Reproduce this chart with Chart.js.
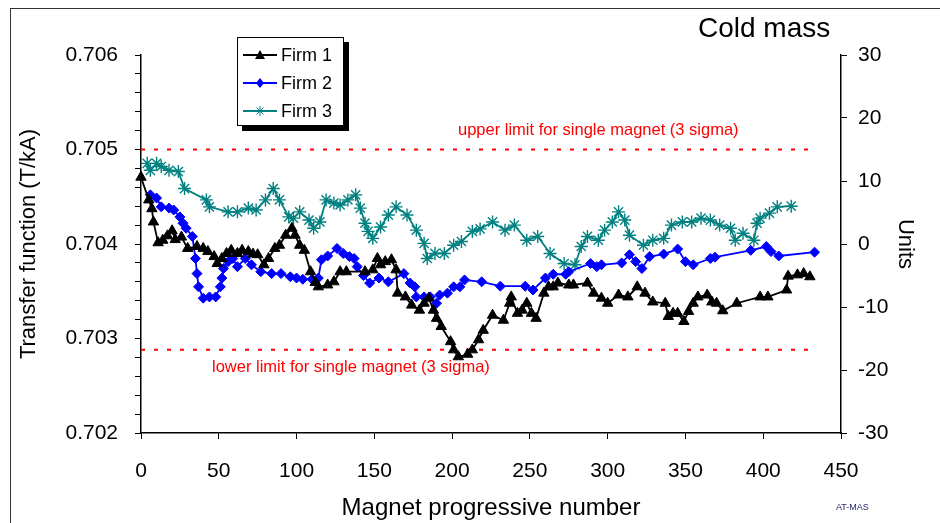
<!DOCTYPE html>
<html>
<head>
<meta charset="utf-8">
<script src="https://cdn.jsdelivr.net/npm/chart.js@4.4.1/dist/chart.umd.min.js"></script>
<style>
  html, body { margin: 0; padding: 0; background: #fff; }
  body { width: 940px; height: 523px; position: relative; overflow: hidden; font-family: "Liberation Sans", Arial, sans-serif; }
  #frame { position: absolute; left: 10px; top: 8px; width: 960px; height: 560px; border: 1px solid #333; }
  #wrap { position: absolute; left: 0; top: 0; width: 940px; height: 523px; }
  .note { position: absolute; white-space: nowrap; line-height: 1; }
  #title { left: 698px; top: 14px; font-size: 28px; color: #000; }
  #upper { left: 458px; top: 121px; font-size: 16.5px; color: #ff0000; }
  #lower { left: 212px; top: 358px; font-size: 16.5px; color: #ff0000; }
  #tag { left: 836px; top: 503px; font-size: 9px; color: #2b2b6b; }
  #legend { position: absolute; left: 237px; top: 37px; width: 105px; height: 87px; border: 1px solid #000; background: #fff; box-shadow: 5px 5px 0 #000; }
  .item { position: absolute; left: 5px; height: 20px; display: flex; align-items: center; font-size: 18px; }
  .item svg { margin-right: 4px; }
</style>
</head>
<body>
<div id="frame"></div>
<div id="wrap"><canvas id="chart" width="940" height="523"></canvas></div>
<div class="note" id="title">Cold mass</div>
<div class="note" id="upper">upper limit for single magnet (3 sigma)</div>
<div class="note" id="lower">lower limit for single magnet (3 sigma)</div>
<div class="note" id="tag">AT-MAS</div>
<div id="legend">
  <div class="item" style="top:7px">
    <svg width="34" height="12"><line x1="0" y1="6" x2="34" y2="6" stroke="#000" stroke-width="2"/><polygon points="17,1 22,10 12,10" fill="#000"/></svg>Firm 1
  </div>
  <div class="item" style="top:35px">
    <svg width="34" height="12"><line x1="0" y1="6" x2="34" y2="6" stroke="#0000ff" stroke-width="2"/><polygon points="17,1 21,6 17,11 13,6" fill="#0000ff"/></svg>Firm 2
  </div>
  <div class="item" style="top:63px">
    <svg width="34" height="12"><line x1="0" y1="6" x2="34" y2="6" stroke="#008080" stroke-width="2"/><g stroke="#008080" stroke-width="1"><line x1="17" y1="1" x2="17" y2="11"/><line x1="12" y1="6" x2="22" y2="6"/><line x1="13.5" y1="2.5" x2="20.5" y2="9.5"/><line x1="20.5" y1="2.5" x2="13.5" y2="9.5"/></g></svg>Firm 3
  </div>
</div>
<script>
// magnet number / deviation in units (right axis)
const firm1X = [0, 5, 7, 8, 11, 14, 17, 20, 22, 26, 30, 36, 40, 43, 47, 49, 52, 55, 58, 62, 65, 69, 72, 75, 79, 82, 86, 89, 93, 97, 99, 102, 105, 109, 112, 114, 120, 124, 128, 132, 144, 149, 152, 154, 157, 161, 164, 165, 170, 174, 179, 182, 185, 188, 190, 193, 199, 201, 204, 210, 213, 217, 220, 226, 233, 237, 238, 242, 245, 248, 251, 254, 259, 262, 265, 268, 275, 278, 287, 291, 296, 300, 307, 313, 319, 324, 329, 337, 339, 342, 345, 349, 352, 355, 358, 364, 367, 370, 374, 383, 398, 403, 415, 416, 422, 426, 430];
const firm1Y = [10.6, 7.0, 5.6, 3.5, 0.2, 0.6, 1.3, 2.1, 0.7, 1.1, -0.7, -0.4, -0.7, -1.2, -2.0, -3.1, -2.3, -1.5, -1.0, -1.5, -1.0, -1.2, -1.6, -1.7, -3.3, -2.3, -0.7, -0.2, 1.4, 2.5, 1.4, -0.2, -1.0, -4.4, -6.1, -6.8, -6.5, -6.0, -4.4, -4.4, -4.4, -4.1, -2.3, -3.3, -2.8, -2.5, -4.1, -7.8, -8.4, -9.7, -10.5, -9.4, -8.6, -10.5, -11.8, -13.1, -15.5, -16.8, -17.9, -17.5, -16.8, -15.2, -13.7, -11.3, -12.1, -9.4, -8.4, -11.0, -10.5, -9.4, -11.0, -11.8, -7.8, -6.8, -6.8, -6.2, -6.5, -6.5, -6.2, -7.8, -8.6, -9.4, -8.1, -8.4, -6.8, -7.8, -9.2, -9.4, -11.5, -11.0, -11.0, -12.3, -10.7, -9.4, -8.4, -8.1, -9.2, -9.4, -10.6, -9.4, -8.4, -8.4, -7.3, -5.1, -4.9, -4.7, -5.2];

const firm2X = [6, 10, 13, 18, 21, 25, 27, 29, 33, 35, 36, 37, 40, 44, 48, 51, 52, 53, 56, 59, 62, 67, 71, 77, 84, 90, 96, 100, 104, 110, 114, 116, 120, 126, 130, 134, 137, 139, 143, 147, 153, 159, 169, 173, 176, 177, 182, 186, 190, 192, 197, 201, 205, 208, 219, 231, 247, 252, 260, 265, 273, 275, 289, 293, 296, 309, 314, 318, 322, 327, 336, 345, 350, 355, 366, 369, 392, 402, 405, 410, 433];
const firm2Y = [7.8, 7.3, 5.9, 5.7, 5.4, 4.3, 3.3, 2.5, 1.2, -2.3, -4.7, -6.8, -8.6, -8.4, -8.4, -6.8, -5.4, -3.9, -2.8, -2.3, -3.6, -2.3, -3.3, -4.4, -4.7, -4.7, -5.2, -5.4, -5.6, -5.6, -5.4, -2.5, -1.9, -0.7, -1.5, -2.0, -2.3, -3.6, -5.0, -6.2, -5.4, -6.0, -4.7, -6.2, -6.8, -8.4, -8.4, -8.4, -9.4, -8.1, -7.8, -6.8, -6.8, -5.7, -6.0, -6.7, -6.7, -7.3, -5.4, -4.8, -4.8, -4.4, -3.1, -3.6, -3.3, -3.0, -1.7, -2.8, -3.9, -2.0, -1.6, -0.8, -2.8, -3.3, -2.3, -2.1, -1.0, -0.4, -1.2, -1.9, -1.3];

const firm3X = [4, 6, 10, 13, 18, 24, 28, 42, 44, 56, 62, 69, 74, 80, 85, 89, 95, 98, 102, 108, 111, 115, 119, 124, 128, 133, 138, 141, 144, 146, 149, 154, 159, 164, 171, 177, 182, 184, 189, 195, 201, 206, 213, 218, 226, 234, 240, 248, 255, 263, 272, 279, 283, 287, 294, 298, 303, 307, 311, 314, 323, 329, 336, 341, 348, 354, 360, 366, 372, 379, 382, 387, 394, 396, 398, 404, 409, 418];
const firm3Y = [12.8, 11.7, 12.8, 12.3, 11.7, 11.5, 8.8, 7.0, 5.9, 5.1, 5.1, 5.7, 5.4, 7.0, 8.8, 7.0, 4.3, 4.1, 5.1, 3.8, 2.5, 3.5, 7.0, 6.5, 6.2, 7.0, 7.8, 5.7, 3.3, 2.0, 0.9, 2.7, 4.6, 5.9, 4.6, 2.2, 0.1, -2.3, -1.5, -1.5, -0.2, 0.4, 2.0, 2.4, 3.5, 2.2, 3.0, 0.6, 1.2, -1.5, -3.1, -3.3, -0.4, 1.2, 0.6, 2.2, 3.5, 5.1, 3.8, 1.4, -0.2, 0.6, 0.9, 3.0, 3.5, 3.5, 4.1, 3.8, 3.0, 2.5, 0.6, 1.7, 0.6, 3.3, 4.1, 4.9, 5.9, 6.0];

const limitX = [0, 430];
const upperLimit = [15, 15];
const lowerLimit = [-16.8, -16.8];

const FONT = "'Liberation Sans', Arial, sans-serif";

function pairs(xs, ys) {
    return xs.map((x, i) => ({ x: x, y: ys[i] }));
}

function axisLine(width) {
    return { display: true, color: "#000", width: width };
}

const ctx = document.getElementById("chart").getContext("2d");

new Chart(ctx, {
    type: "line",
    data: {
        datasets: [
            {
                label: "Firm 1",
                data: pairs(firm1X, firm1Y),
                yAxisID: "y1",
                borderColor: "#000",
                backgroundColor: "#000",
                borderWidth: 1.8,
                pointStyle: "triangle",
                pointRadius: 6,
                pointBorderWidth: 1,
                clip: false
            },
            {
                label: "Firm 2",
                data: pairs(firm2X, firm2Y),
                yAxisID: "y1",
                borderColor: "#0000ff",
                backgroundColor: "#0000ff",
                borderWidth: 1.8,
                pointStyle: "rectRot",
                pointRadius: 5,
                pointBorderWidth: 1,
                clip: false
            },
            {
                label: "Firm 3",
                data: pairs(firm3X, firm3Y),
                yAxisID: "y1",
                borderColor: "#008080",
                backgroundColor: "#008080",
                borderWidth: 1.8,
                pointStyle: "star",
                pointRadius: 6.5,
                pointBorderWidth: 1.4,
                clip: false
            },
            {
                label: "upper",
                data: pairs(limitX, upperLimit),
                yAxisID: "y1",
                borderColor: "#ff0000",
                borderWidth: 2,
                borderDash: [4, 9],
                pointRadius: 0
            },
            {
                label: "lower",
                data: pairs(limitX, lowerLimit),
                yAxisID: "y1",
                borderColor: "#ff0000",
                borderWidth: 2,
                borderDash: [4, 9],
                pointRadius: 0
            }
        ]
    },
    options: {
        responsive: false,
        animation: false,
        devicePixelRatio: 1,
        layout: { padding: { top: 55, left: 0, right: 0, bottom: 0 } },
        plugins: { legend: { display: false }, tooltip: { enabled: false } },
        scales: {
            x: {
                type: "linear",
                min: 0,
                max: 450,
                afterFit: s => { s.height = 90; },
                border: axisLine(1.5),
                grid: { drawOnChartArea: false, drawTicks: true, tickLength: 6, color: "#000" },
                ticks: { stepSize: 50, color: "#000", padding: 20, font: { family: FONT, size: 21 } },
                title: { display: true, text: "Magnet progressive number", color: "#000", padding: { top: 9, bottom: 0 }, font: { family: FONT, size: 24 } }
            },
            y: {
                position: "left",
                min: 0.702,
                max: 0.706,
                afterFit: s => { s.width = 141; },
                border: axisLine(1.5),
                grid: { drawOnChartArea: false, drawTicks: true, tickLength: 6, color: "#000" },
                ticks: {
                    stepSize: 0.0002,
                    color: "#000",
                    padding: 17,
                    autoSkip: false,
                    font: { family: FONT, size: 21 },
                    callback: v => (Math.round(v * 10000) % 10 === 0 ? v.toFixed(3) : "")
                },
                title: { display: true, text: "Transfer function (T/kA)", color: "#000", padding: { top: 16, bottom: 0 }, font: { family: FONT, size: 22 } }
            },
            y1: {
                position: "right",
                min: -30,
                max: 30,
                afterFit: s => { s.width = 99; },
                border: axisLine(1.5),
                grid: { drawOnChartArea: false, drawTicks: true, tickLength: 6, color: "#000" },
                ticks: { stepSize: 10, color: "#000", padding: 11, font: { family: FONT, size: 21 } },
                title: { display: true, text: "Units", color: "#000", padding: { top: 22, bottom: 0 }, font: { family: FONT, size: 22 } }
            }
        }
    }
});
</script>
</body>
</html>
